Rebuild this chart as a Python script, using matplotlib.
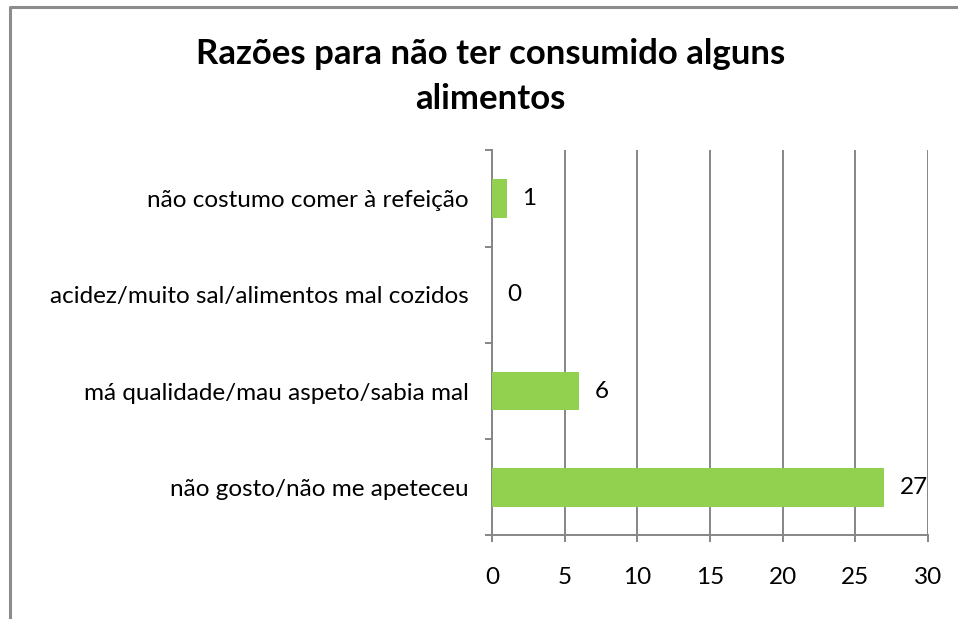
import matplotlib.pyplot as plt
from matplotlib.lines import Line2D
import numpy as np

plt.rcParams['font.family'] = ['Lato', 'DejaVu Sans']

# Data, bottom to top
categories = ['não gosto/não me apeteceu',
              'má qualidade/mau aspeto/sabia mal',
              'acidez/muito sal/alimentos mal cozidos',
              'não costumo comer à refeição']
values = [27, 6, 0, 1]
x_ticks = [0, 5, 10, 15, 20, 25, 30]

GRID = '#868686'
BAR = '#92D050'

fig = plt.figure(figsize=(9.58, 6.19), dpi=100)
ax = fig.add_axes([0.5136, 0.1349, 0.4551, 0.622])

pos = np.arange(len(categories))
ax.barh(pos, values, height=0.4, color=BAR, zorder=3)

for p, v in zip(pos, values):
    ax.annotate(str(v), (v, p), xytext=(11, 0), textcoords='offset points',
                ha='left', va='center', fontsize=17.5, color='black')

ax.set_xlim(0, 30)
ax.set_ylim(-0.5, len(categories) - 0.5)
ax.set_xticks(x_ticks)
ax.set_yticks(pos)
ax.set_yticklabels(categories)
ax.set_yticks(np.arange(-0.5, len(categories)), minor=True)

ax.grid(axis='x', color=GRID, linewidth=1.4, zorder=0)
for s in ['top', 'right']:
    ax.spines[s].set_visible(False)
for s in ['left', 'bottom']:
    ax.spines[s].set_color(GRID)
    ax.spines[s].set_linewidth(1.4)

ax.tick_params(axis='x', length=5, width=1.4, color=GRID, pad=18, labelsize=17.5)
ax.tick_params(axis='y', which='major', length=0, pad=17, labelsize=17.5)
ax.tick_params(axis='y', which='minor', length=5, width=1.4, color=GRID)

fig.text(0.512, 0.876, 'Razões para não ter consumido alguns\nalimentos',
         ha='center', va='center', fontsize=25, fontweight='bold',
         linespacing=1.5)

# outer chart border
fig.add_artist(Line2D([9.5 / 958, 9.5 / 958, 1], [0, 1 - 7 / 619, 1 - 7 / 619],
                      transform=fig.transFigure, color='#8c8c8c', linewidth=2.2))

fig.savefig('out.png', dpi=100)
